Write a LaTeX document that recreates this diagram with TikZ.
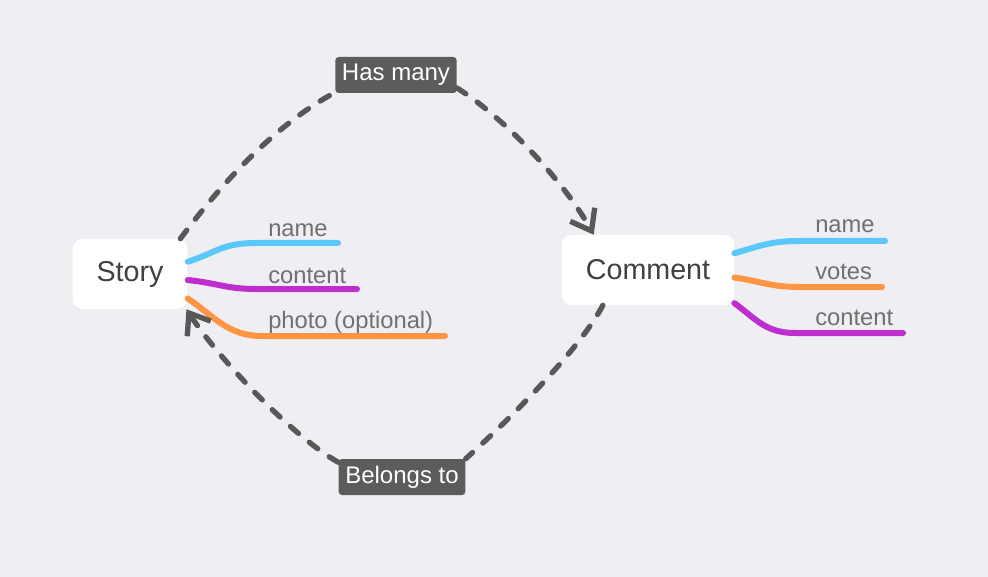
\documentclass[tikz,border=0pt]{standalone}
\usepackage{fontspec}
\setmainfont{Liberation Sans}
\usetikzlibrary{arrows.meta}
\definecolor{bgcol}{RGB}{239,238,243}
\definecolor{tagcol}{RGB}{92,92,92}
\definecolor{linkcol}{RGB}{88,88,88}
\definecolor{skyblue}{RGB}{90,200,250}
\definecolor{violetb}{RGB}{190,45,205}
\definecolor{orangeb}{RGB}{255,148,66}
\definecolor{fieldtext}{RGB}{112,112,112}
\tikzset{
  entity/.style={fill=white, rounded corners=7.5pt, minimum height=52.5pt, inner xsep=18pt,
    text=black!75, font=\fontsize{21.5}{24}\selectfont},
  tag/.style={fill=tagcol, rounded corners=2.5pt, minimum height=27pt, inner xsep=5pt,
    text=white, font=\fontsize{18}{20}\selectfont},
  field/.style={anchor=base west, inner sep=0pt, text=fieldtext, font=\fontsize{17.8}{20}\selectfont},
  branch/.style={draw=#1, line width=4.5pt, line cap=round},
  link/.style={draw=linkcol, line width=4pt, line cap=round, dash pattern=on 8pt off 10.5pt},
  barb/.style={-{Straight Barb[length=14pt,width=21pt]}},
}
\begin{document}
\begin{tikzpicture}[x=0.75pt, y=-0.75pt]
\fill[bgcol] (0,0) rectangle (988,577);
\useasboundingbox (0,0) rectangle (988,577);

% entities and relations
\node[entity] (story) at (130,274) {Story};
\node[entity] (comment) at (648,270) {Comment};
\node[tag] (hasmany) at (396,75) {Has many};
\node[tag] (belongs) at (402,477) {Belongs to};

% fields of story
\draw[branch=skyblue] (story.12) .. controls (218,252) and (222,243) .. (257,243) -- (338,243) coordinate (sname);
\draw[branch=violetb] (story.-6) .. controls (218,283) and (225,289) .. (257,289) -- (357,289) coordinate (scontent);
\draw[branch=orangeb] (story.-23) .. controls (213,315) and (227,336) .. (262,336) -- (445,336) coordinate (sphoto);
\node[field] at (268,237) {name};
\node[field] at (268,283) {content};
\node[field] at (268,328) {photo (optional)};

% fields of comment
\draw[branch=skyblue] (comment.11) .. controls (760,246) and (770,241) .. (800,241) -- (885,241) coordinate (cname);
\draw[branch=orangeb] (comment.-5) .. controls (760,281) and (770,287) .. (800,287) -- (882,287) coordinate (cvotes);
\draw[branch=violetb] (comment.-21) .. controls (755,318) and (765,333) .. (795,333) -- (903,333) coordinate (ccontent);
\node[field] at (815,233) {name};
\node[field] at (815,279) {votes};
\node[field] at (815,325) {content};

% relations
\draw[link, barb] (story.35) .. controls (226,177) and (280,122) .. (hasmany.196)
  (hasmany.-12) .. controls (505,118) and (565,183) .. (comment.147);
\draw[link, barb] (comment.218) .. controls (578,353) and (498,430) .. (belongs.16)
  (belongs.167) .. controls (293,437) and (218,358) .. (story.-32);

\end{tikzpicture}
\end{document}
